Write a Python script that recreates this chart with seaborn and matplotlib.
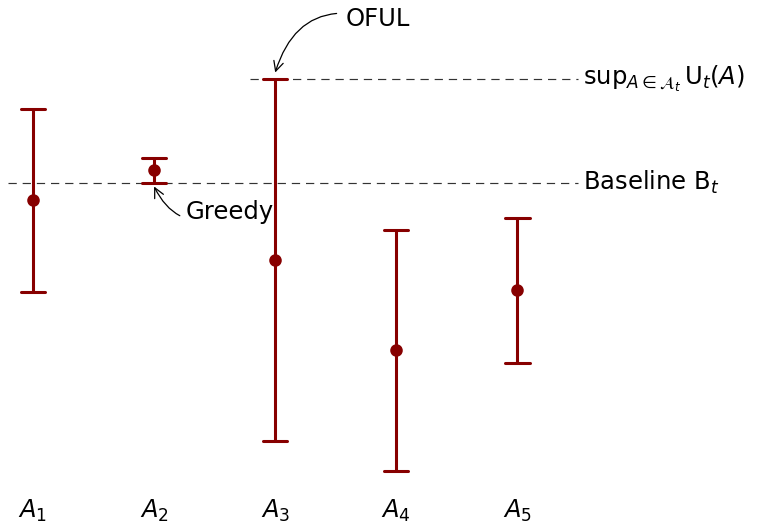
import numpy as np
import pandas as pd
import matplotlib
matplotlib.use("Agg")
import matplotlib.pyplot as plt
import seaborn as sns

# Arms and their confidence intervals (centre and half-width)
arms = ["$A_1$", "$A_2$", "$A_3$", "$A_4$", "$A_5$"]
means = [6.0, 6.6, 4.8, 3.0, 4.2]
half_widths = [1.83, 0.25, 3.62, 2.41, 1.45]

# Reference levels
baseline = 6.35
sup_ucb = 8.42

dark_red = "#870000"

sns.set_theme(style="white")
plt.rcParams["font.family"] = ["DejaVu Sans"]
plt.rcParams["mathtext.fontset"] = "dejavusans"
plt.rcParams["text.color"] = "black"
plt.rcParams["xtick.color"] = "black"

rows = []
for arm, m, h in zip(arms, means, half_widths):
    rows.append({"arm": arm, "value": m - h})
    rows.append({"arm": arm, "value": m + h})
df = pd.DataFrame(rows)

fig = plt.figure(figsize=(7.61, 5.24), dpi=100)
ax = fig.add_axes([0, 40 / 524, 1, 484 / 524])

sns.pointplot(
    data=df, x="arm", y="value", order=arms,
    estimator="mean", errorbar=lambda v: (v.min(), v.max()),
    linestyle="none", color=dark_red, capsize=0.2,
    markers="o", markersize=7, err_kws={"linewidth": 2.2},
    ax=ax,
)

# Dashed reference lines
dash = (0, (7, 5))
ax.hlines(baseline, -0.21, 4.5, colors="#333333", linewidth=0.85, linestyles=[dash], zorder=0)
ax.hlines(sup_ucb, 1.79, 4.5, colors="#333333", linewidth=0.85, linestyles=[dash], zorder=0)

fs = 17.5
ax.text(4.54, sup_ucb, r"$\mathrm{sup}_{A\in\mathcal{A}_t}\,\mathrm{U}_t(A)$",
        fontsize=fs, ha="left", va="center")
ax.text(4.54, baseline, r"Baseline $\mathrm{B}_t$",
        fontsize=fs, ha="left", va="center")

# Annotations for the arms picked by each strategy
ax.annotate("OFUL", xy=(2, sup_ucb + 0.13), xytext=(2.58, 9.62),
            fontsize=fs, ha="left", va="center",
            arrowprops=dict(arrowstyle="->", color="black", lw=0.9,
                            connectionstyle="arc3,rad=0.5", shrinkA=4, shrinkB=0))
ax.annotate("Greedy", xy=(1, baseline - 0.08), xytext=(1.26, 5.76),
            fontsize=fs, ha="left", va="center",
            arrowprops=dict(arrowstyle="->", color="black", lw=0.9,
                            connectionstyle="arc3,rad=-0.5", shrinkA=2, shrinkB=0))

ax.set_xlim(-33 / 121.1, (761 - 33) / 121.1)
ax.set_ylim(0.32, 10.0)
ax.set_xlabel("")
ax.set_ylabel("")
ax.set_yticks([])
ax.tick_params(axis="x", length=0, pad=10, labelsize=fs)
for s in ax.spines.values():
    s.set_visible(False)

fig.savefig("out.png", dpi=100)
